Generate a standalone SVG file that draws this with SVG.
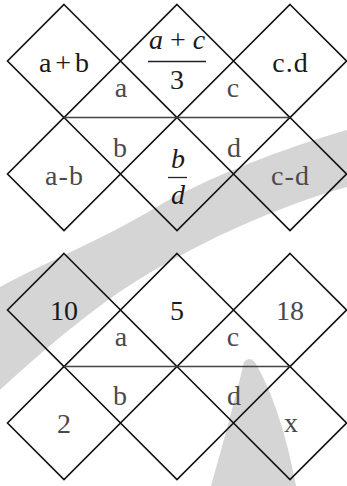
<svg xmlns="http://www.w3.org/2000/svg" xmlns:xlink="http://www.w3.org/1999/xlink" width="347" height="486" viewBox="0 0 347 486">
<style>
.wm{fill:#d5d5d5;stroke:none}
.dia{fill:none;stroke:#111;stroke-width:1.6}
.hl{stroke:#444;stroke-width:1.6}
.bar{stroke:#222;stroke-width:1.3}
text{font-family:"Liberation Serif","DejaVu Serif",serif;font-size:28px;text-anchor:middle}
.m{fill:#1a1a1a}
.s{fill:#4a4a4a}
.i{font-style:italic}
</style>
<defs>
<polygon id="dia" points="0,-56.5 56.5,0 0,56.5 -56.5,0"/>
</defs>
<g id="watermark">
<path class="wm" d="M347,130 C290,146 205,178 155,208 C105,238 40,265 0,287 L0,390 C30,362 70,328 100,306 C150,268 250,214 347,187 Z"/>
<path class="wm" d="M244,362 Q250,355 256,364 C272,392 286,432 296,486 L211,486 C224,440 236,396 244,362 Z"/>
</g>
<g id="top">
<g id="n-apb"><use xlink:href="#dia" class="dia" x="64" y="61"/><text class="m" x="64" y="72">a<tspan dx="4">+</tspan><tspan dx="4">b</tspan></text></g>
<g id="n-frac1"><use xlink:href="#dia" class="dia" x="177" y="61"/><text class="m i" x="177" y="49">a <tspan font-style="normal">+</tspan> c</text><line class="bar" x1="148" y1="61.5" x2="206" y2="61.5"/><text class="m" x="177" y="89">3</text></g>
<g id="n-cd"><use xlink:href="#dia" class="dia" x="290" y="61"/><text class="m" x="290" y="72">c<tspan dx="1">.</tspan><tspan dx="1">d</tspan></text></g>
<g id="n-amb"><use xlink:href="#dia" class="dia" x="64" y="174"/><text class="s" x="64" y="185">a<tspan dx="1">-</tspan><tspan dx="1">b</tspan></text></g>
<g id="n-frac2"><use xlink:href="#dia" class="dia" x="177" y="174"/><text class="m i" x="178" y="168">b</text><line class="bar" x1="168" y1="177.5" x2="187" y2="177.5"/><text class="m i" x="178" y="204">d</text></g>
<g id="n-cmd"><use xlink:href="#dia" class="dia" x="290" y="174"/><text class="s" x="290" y="185">c<tspan dx="1">-</tspan><tspan dx="1">d</tspan></text></g>
<text class="s" x="121" y="97">a</text>
<text class="s" x="233" y="97">c</text>
<text class="s" x="120" y="157">b</text>
<text class="s" x="234" y="157">d</text>
</g>
<g id="bottom">
<g id="n-10"><use xlink:href="#dia" class="dia" x="64" y="310"/><text class="m" x="64" y="320">10</text></g>
<g id="n-5"><use xlink:href="#dia" class="dia" x="177" y="310"/><text class="m" x="177" y="320">5</text></g>
<g id="n-18"><use xlink:href="#dia" class="dia" x="290" y="310"/><text class="s" x="290" y="320">18</text></g>
<g id="n-2"><use xlink:href="#dia" class="dia" x="64" y="423"/><text class="s" x="64" y="433">2</text></g>
<g id="n-blank"><use xlink:href="#dia" class="dia" x="177" y="423"/></g>
<g id="n-x"><use xlink:href="#dia" class="dia" x="290" y="423"/><text class="s" x="291" y="432">x</text></g>
<text class="s" x="121" y="346">a</text>
<text class="s" x="233" y="346">c</text>
<text class="s" x="120" y="405">b</text>
<text class="s" x="234" y="405">d</text>
</g>
<g id="connectors">
<line class="hl" x1="64" y1="117.5" x2="290" y2="117.5"/>
<line class="hl" x1="64" y1="366.5" x2="290" y2="366.5"/>
</g>
</svg>
